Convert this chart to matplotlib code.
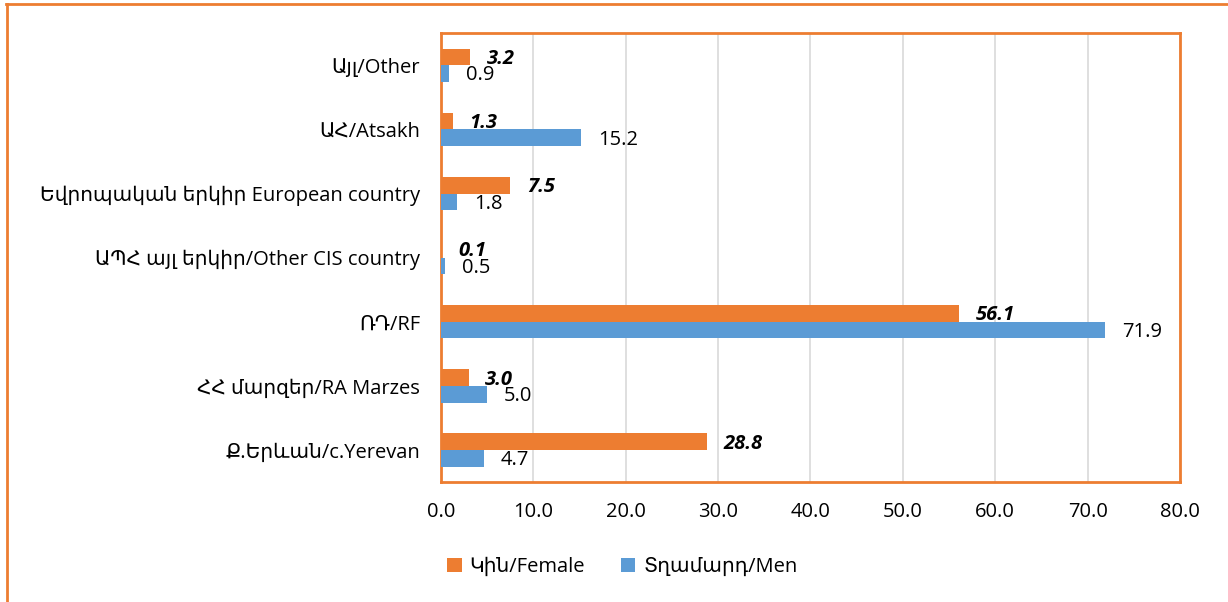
import numpy as np
import matplotlib
matplotlib.use("Agg")
from matplotlib import pyplot as plt
from matplotlib.lines import Line2D

plt.rcParams["font.family"] = ["Open Sans", "DejaVu Sans"]

# Data (bottom to top)
categories = [
    "Ք.Երևան/c.Yerevan",
    "ՀՀ մարզեր/RA Marzes",
    "ՌԴ/RF",
    "ԱՊՀ այլ երկիր/Other CIS country",
    "Եվրոպական երկիր European country",
    "ԱՀ/Atsakh",
    "Այլ/Other",
]
female = [28.8, 3.0, 56.1, 0.1, 7.5, 1.3, 3.2]
men = [4.7, 5.0, 71.9, 0.5, 1.8, 15.2, 0.9]
series_names = ["Կին/Female", "Տղամարդ/Men"]

ORANGE = "#ED7D31"
BLUE = "#5B9BD5"
FS = 14.5

fig = plt.figure(figsize=(12.28, 6.02), dpi=100)
ax = fig.add_axes([0.359, 0.199, 0.602, 0.746])

y = np.arange(len(categories))
h = 0.26
ax.barh(y + h / 2, female, height=h, color=ORANGE, label=series_names[0], zorder=3)
ax.barh(y - h / 2, men, height=h, color=BLUE, label=series_names[1], zorder=3)

for yi, v in zip(y, female):
    ax.text(v + 1.8, yi + h / 2 - 0.03, f"{v:.1f}", va="center", ha="left",
            fontsize=FS, fontweight="bold", fontstyle="italic", zorder=4)
for yi, v in zip(y, men):
    ax.text(v + 1.8, yi - h / 2 - 0.03, f"{v:.1f}", va="center", ha="left",
            fontsize=FS, zorder=4)

ax.set_xlim(0, 80)
ax.set_ylim(-0.5, len(categories) - 0.5)
ax.set_xticks(np.arange(0, 81, 10))
ax.set_xticklabels([f"{t:.1f}" for t in np.arange(0, 81, 10)])
ax.set_yticks(y)
ax.set_yticklabels(categories)
ax.tick_params(axis="both", length=0, labelsize=FS)
ax.tick_params(axis="x", pad=14)
ax.tick_params(axis="y", pad=15)
ax.xaxis.grid(True, color="#D9D9D9", linewidth=1.2, zorder=0)
ax.set_axisbelow(True)
for sp in ax.spines.values():
    sp.set_color(ORANGE)
    sp.set_linewidth(2)

handles, labels = ax.get_legend_handles_labels()
fig.legend(handles, labels, loc="center", bbox_to_anchor=(0.507, 0.058), ncol=2,
           frameon=False, fontsize=FS, handlelength=0.7, handleheight=0.7,
           handletextpad=0.4, columnspacing=1.8)

# outer chart border (top and left visible)
fig.add_artist(Line2D([6 / 1228, 1], [1 - 4 / 602, 1 - 4 / 602], color=ORANGE,
                      linewidth=2, transform=fig.transFigure))
fig.add_artist(Line2D([7 / 1228, 7 / 1228], [0, 1 - 4 / 602], color=ORANGE,
                      linewidth=2, transform=fig.transFigure))

fig.savefig("out.png", dpi=100)
